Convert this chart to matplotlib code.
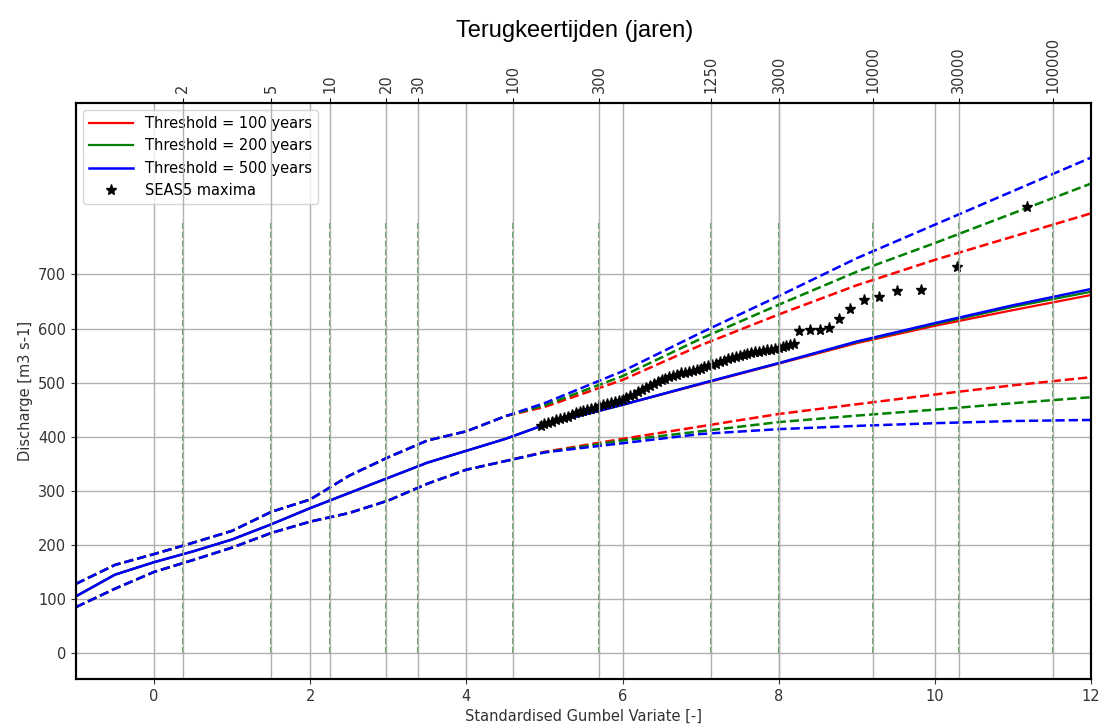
import numpy as np
import matplotlib
matplotlib.use("Agg")
import matplotlib.pyplot as plt

## Standardised Gumbel variate at which the curves were read
gumbel_x = [-1, -0.5, 0, 0.5, 1, 1.5, 2, 2.5, 3, 3.5, 4, 4.5, 5, 6, 7, 8, 9, 10, 11, 12]

## Threshold = 500 years (blue): central fit and confidence band
q500_mid = [105, 145, 168, 188, 210, 238, 268, 296, 324, 352, 374, 396, 422, 459, 498, 536, 576, 610, 643, 673]
q500_up = [128, 163, 183, 204, 226, 261, 284, 328, 362, 393, 410, 438, 462, 521, 592, 660, 730, 792, 854, 916]
q500_lo = [85, 119, 150, 172, 195, 222, 243, 259, 282, 313, 339, 355, 371, 388, 405, 414, 420, 425, 429, 431]

## Threshold = 200 years (green)
q200_mid = [105, 145, 168, 188, 210, 238, 268, 296, 324, 352, 374, 396, 422, 459, 498, 536, 575, 608, 640, 668]
q200_up = [128, 163, 183, 204, 226, 261, 284, 328, 362, 393, 410, 438, 458, 512, 581, 644, 705, 758, 813, 868]
q200_lo = [85, 119, 150, 172, 195, 222, 243, 259, 282, 313, 339, 355, 371, 393, 410, 427, 439, 450, 462, 473]

## Threshold = 100 years (red)
q100_mid = [105, 145, 168, 188, 210, 238, 268, 296, 324, 352, 374, 396, 422, 459, 497, 535, 573, 605, 634, 662]
q100_up = [128, 163, 183, 204, 226, 261, 284, 328, 362, 393, 410, 438, 455, 505, 569, 626, 680, 727, 770, 813]
q100_lo = [85, 119, 150, 172, 195, 222, 243, 259, 282, 313, 339, 355, 372, 396, 419, 442, 460, 478, 495, 510]

## SEAS5 maxima (gumbel variate, discharge)
seas5_x = [4.95, 5.00, 5.05, 5.10, 5.15, 5.20, 5.25, 5.30, 5.35, 5.40, 5.45, 5.50, 5.55, 5.60,
           5.65, 5.70, 5.75, 5.80, 5.85, 5.90, 5.95, 6.00, 6.05, 6.10, 6.15, 6.20, 6.25, 6.30,
           6.35, 6.40, 6.45, 6.50, 6.55, 6.60, 6.65, 6.70, 6.75, 6.80, 6.85, 6.90, 6.95, 7.00,
           7.05, 7.10, 7.15, 7.20, 7.25, 7.30, 7.35, 7.40, 7.45, 7.50, 7.55, 7.60, 7.65, 7.70,
           7.75, 7.80, 7.85, 7.90, 7.95, 8.00, 8.05, 8.10, 8.15, 8.20,
           8.26, 8.40, 8.53, 8.65, 8.77, 8.91, 9.09, 9.28, 9.51, 9.82, 10.29, 11.18]
seas5_q = [420, 423, 425, 428, 430, 432, 435, 437, 440, 443, 445, 447, 449, 452,
           454, 456, 458, 460, 462, 464, 466, 468, 471, 475, 478, 482, 486, 490,
           494, 498, 501, 504, 507, 510, 513, 515, 517, 518, 520, 521, 523, 525,
           528, 531, 533, 535, 538, 540, 543, 545, 547, 549, 551, 553, 555, 556,
           557, 558, 560, 561, 562, 564, 566, 568, 570, 572,
           595, 597, 597, 601, 618, 636, 652, 659, 669, 672, 714, 825]

## Return periods (years) shown on the top axis
return_periods = [2, 5, 10, 20, 30, 100, 300, 1250, 3000, 10000, 30000, 100000]

rp = np.array(return_periods, dtype=float)
rp_gumbel = -np.log(-np.log(1 - 1 / rp))

fs = 10.5
txt = "#333333"

fig = plt.figure(figsize=(11.08, 7.28), dpi=100)
ax = fig.add_axes([0.0686, 0.0673, 0.916, 0.7912])

ax.vlines(rp_gumbel, 0, 800, colors="g", linestyles="--", linewidth=1.2, alpha=0.8)

ax.plot(gumbel_x, q100_mid, color="r", lw=1.6, label="Threshold = 100 years")
ax.plot(gumbel_x, q100_up, color="r", lw=1.8, ls="--")
ax.plot(gumbel_x, q100_lo, color="r", lw=1.8, ls="--")
ax.plot(gumbel_x, q200_mid, color="g", lw=1.6, label="Threshold = 200 years")
ax.plot(gumbel_x, q200_up, color="g", lw=1.8, ls="--")
ax.plot(gumbel_x, q200_lo, color="g", lw=1.8, ls="--")
ax.plot(gumbel_x, q500_mid, color="b", lw=1.8, label="Threshold = 500 years")
ax.plot(gumbel_x, q500_up, color="b", lw=1.8, ls="--")
ax.plot(gumbel_x, q500_lo, color="b", lw=1.8, ls="--")
ax.plot(seas5_x, seas5_q, "*", color="k", ms=8, label="SEAS5 maxima")

ax.set_xlim(-1, 12)
ax.set_ylim(-48, 1017)
ax.set_xticks(range(0, 13, 2))
ax.set_yticks(range(0, 800, 100))
ax.grid(True, color="#b0b0b0", lw=1)
ax.tick_params(labelsize=fs, colors=txt)
ax.set_xlabel("Standardised Gumbel Variate [-]", fontsize=fs, color=txt)
ax.set_ylabel("Discharge [m3 s-1]", fontsize=fs, color=txt)
for s in ax.spines.values():
    s.set_linewidth(1.5)
ax.legend(loc="upper left", fontsize=fs, handlelength=3)

## Top axis with return periods
ax2 = ax.twiny()
ax2.set_xlim(ax.get_xlim())
ax2.set_xticks(rp_gumbel)
ax2.set_xticklabels([str(t) for t in return_periods], rotation=90, fontsize=fs, color=txt)
ax2.grid(True, color="#b0b0b0", lw=1)
for s in ax2.spines.values():
    s.set_linewidth(1.5)

fig.text(0.519, 0.958, "Terugkeertijden (jaren)", ha="center", va="center",
         fontsize=17, family="Liberation Sans")

fig.savefig("out.png", dpi=100)
